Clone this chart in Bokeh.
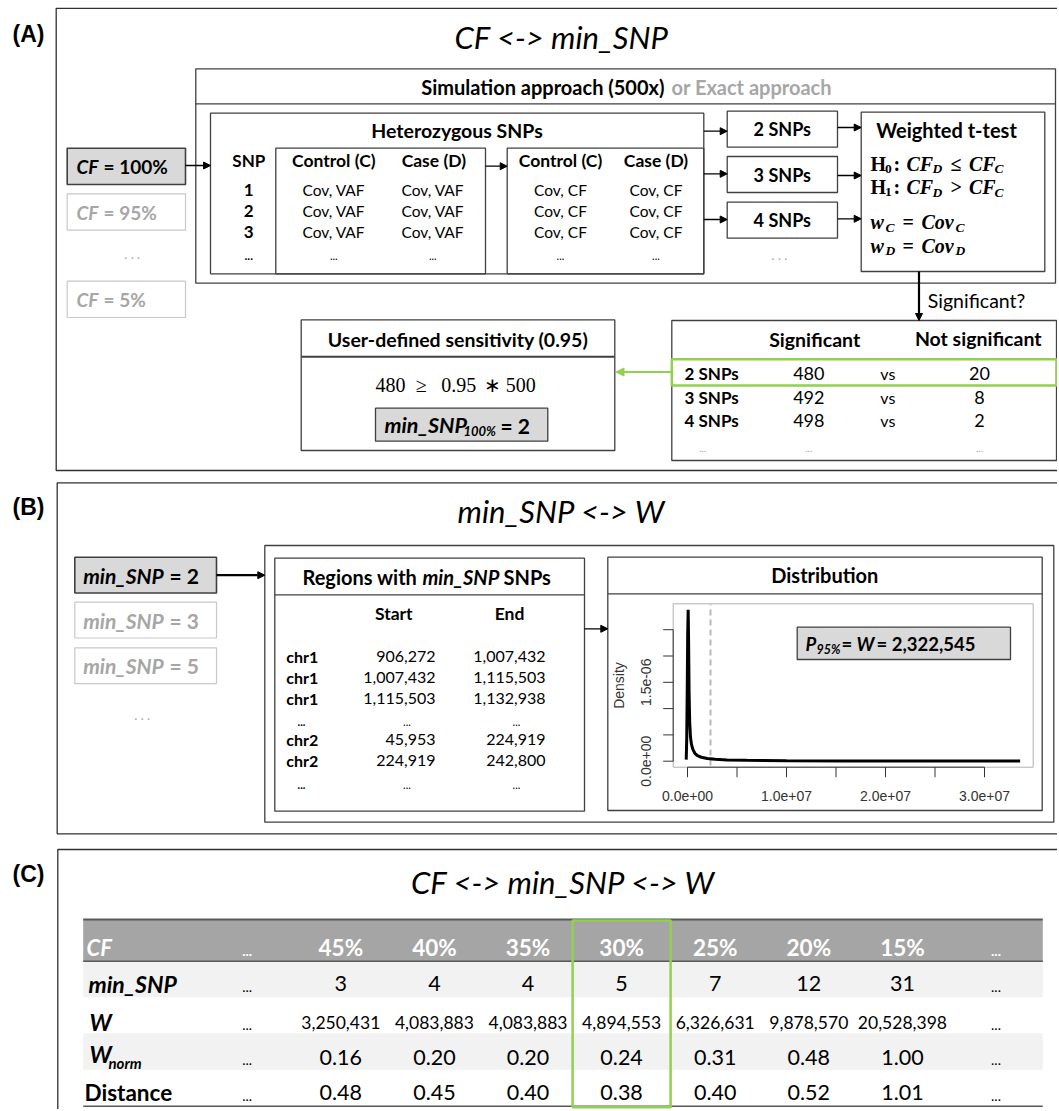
import math
from bokeh.plotting import figure
from bokeh.models import Range1d, Arrow, NormalHead, ColumnDataSource
from bokeh.core.properties import value
from bokeh.embed import file_html
from bokeh.resources import INLINE

# ------------------------------------------------------------------ data
PANEL_LABELS = ["(A)", "(B)", "(C)"]
PANEL_TITLES = ["CF <-> min_SNP", "min_SNP <-> W", "CF <-> min_SNP <-> W"]
CF_CHOICES = ["100%", "95%", "5%"]
SNP_ROWS = ["1", "2", "3", "..."]
SNP_SETS = ["2 SNPs", "3 SNPs", "4 SNPs"]
N_SIM = 500
SENSITIVITY = 0.95
SIG_COUNTS = [480, 492, 498]
NOT_SIG_COUNTS = [20, 8, 2]
MIN_SNP_CHOICES = [2, 3, 5]
REGION_CHR = ["chr1", "chr1", "chr1", "...", "chr2", "chr2", "..."]
REGION_START = ["906,272", "1,007,432", "1,115,503", "...", "45,953", "224,919", "..."]
REGION_END = ["1,007,432", "1,115,503", "1,132,938", "...", "224,919", "242,800", "..."]
# density of region widths
DENS_X = [-1.3e5, -0.8e5, -0.3e5, 0.2e5, 0.67e5, 1.1e5, 1.6e5, 2.2e5, 3.0e5, 4.0e5,
          5.5e5, 7.5e5, 1.0e6, 1.4e6, 2.0e6, 2.8e6, 4.0e6, 6.0e6, 1.0e7, 1.6e7, 2.4e7, 3.36e7]
DENS_Y = [0.03e-6, 0.4e-6, 1.3e-6, 2.4e-6, 2.88e-6, 2.3e-6, 1.3e-6, 0.75e-6, 0.46e-6, 0.32e-6,
          0.22e-6, 0.15e-6, 0.105e-6, 0.075e-6, 0.05e-6, 0.035e-6, 0.025e-6, 0.017e-6, 0.01e-6,
          0.006e-6, 0.004e-6, 0.003e-6]
W_P95 = 2322545
X_TICKS = [0, 5e6, 1e7, 1.5e7, 2e7, 2.5e7, 3e7]
X_TICK_LABELS = ["0.0e+00", "", "1.0e+07", "", "2.0e+07", "", "3.0e+07"]
Y_TICKS = [0, 5e-7, 1e-6, 1.5e-6, 2e-6, 2.5e-6]
Y_TICK_LABELS = ["0.0e+00", "", "", "1.5e-06", "", ""]
TABLE_CF = ["...", "45%", "40%", "35%", "30%", "25%", "20%", "15%", "..."]
TABLE_MIN_SNP = ["...", "3", "4", "4", "5", "7", "12", "31", "..."]
TABLE_W = ["...", "3,250,431", "4,083,883", "4,083,883", "4,894,553", "6,326,631",
           "9,878,570", "20,528,398", "..."]
TABLE_W_NORM = ["...", "0.16", "0.20", "0.20", "0.24", "0.31", "0.48", "1.00", "..."]
TABLE_DIST = ["...", "0.48", "0.45", "0.40", "0.38", "0.40", "0.52", "1.01", "..."]
SELECTED_CF = "30%"

# ------------------------------------------------------------------ styles
FONT = "Lato"
SERIF = "Liberation Serif"
ARIAL = "Liberation Sans"
DARK = "#404040"
LIGHT = "#a6a6a6"
GREEN = "#92d050"
BOXFILL = "#d9d9d9"
W_PX, H_PX = 1057, 1109

p = figure(width=W_PX, height=H_PX, x_range=Range1d(0, W_PX), y_range=Range1d(H_PX, 0),
           output_backend="svg", toolbar_location=None, min_border=0,
           x_axis_location=None, y_axis_location=None, outline_line_color=None)
p.grid.visible = False
p.background_fill_color = "white"
p.border_fill_color = "white"

# mini density plot scales (frame of the R plot in panel B)
X0PX, PX_PER_X = 687.0, 99.0 / 1e7
Y0PX, PX_PER_Y = 760.7, 26.3 / 5e-7
p.extra_x_ranges = {"dx": Range1d((0 - X0PX) / PX_PER_X, (W_PX - X0PX) / PX_PER_X)}
p.extra_y_ranges = {"dy": Range1d((Y0PX - H_PX) / PX_PER_Y, (Y0PX - 0) / PX_PER_Y)}


def T(x, y, s, size=15, style="normal", color="black", align="left", font=FONT,
      baseline="middle", angle=0.0, **kw):
    xs = x if isinstance(x, list) else [x]
    ys = y if isinstance(y, list) else [y] * len(xs)
    ss = s if isinstance(s, list) else [s] * len(xs)
    p.text(x=xs, y=ys, text=ss, text_font=value(font), text_font_size=f"{size}px",
           text_font_style=style, text_color=color, text_align=align,
           text_baseline=baseline, angle=angle, **kw)


def B(l, r, t, b, fill=None, line=DARK, lw=1.3):
    p.quad(left=[l], right=[r], top=[t], bottom=[b], fill_color=fill,
           fill_alpha=1.0 if fill else 0.0, line_color=line, line_width=lw)


def L(xs, ys, color=DARK, lw=1.3, dash="solid", **kw):
    p.line(xs, ys, line_color=color, line_width=lw, line_dash=dash, **kw)


def arrows(segs, color="black", lw=1.3, size=7):
    src = ColumnDataSource(dict(x0=[s[0] for s in segs], y0=[s[1] for s in segs],
                                x1=[s[2] for s in segs], y1=[s[3] for s in segs]))
    p.add_layout(Arrow(end=NormalHead(size=size, fill_color=color, line_color=color),
                       x_start="x0", y_start="y0", x_end="x1", y_end="y1", source=src,
                       line_color=color, line_width=lw))


# ================================================================== panel A
L([1070, 55.7, 55.7, 1070], [7.8, 7.8, 470, 470], color="#303030", lw=1.3)
T(28, 33, PANEL_LABELS[0], 23, "bold", font=ARIAL, align="center")
T(561, 36, PANEL_TITLES[0], 31, "italic", align="center")

# simulation container
B(195.3, 1055, 68.3, 282.7)
L([195.3, 1055], [103.3, 103.3])
T(664, 86, f"Simulation approach ({N_SIM}x)", 20, "bold", align="right")
T(671, 86, "or Exact approach", 20, "bold", color=LIGHT)

# CF choices
cf_tops = [147.7, 193.3, 280.7]
for i, cf in enumerate(CF_CHOICES):
    sel = i == 0
    col = "black" if sel else LIGHT
    B(66.7, 185, cf_tops[i], cf_tops[i] + 36.3, fill=BOXFILL if sel else None,
      line=DARK if sel else "#c8c8c8", lw=1.6 if sel else 1.2)
    yc = cf_tops[i] + 18.5
    T(76, yc, "CF", 19, "bold italic", color=col)
    T(103, yc, "= " + cf, 19, "bold", color=col)
T(131.7, 253, ". . .", 13, color=LIGHT, align="center")

# heterozygous SNPs
B(210, 703.3, 112.7, 273.3)
T(456.5, 130, "Heterozygous SNPs", 19.5, "bold", align="center")
B(275.3, 485, 147.7, 273.3)
B(506.7, 703.3, 147.7, 273.3)
T(248.3, 160, "SNP", 17, "bold", align="center")
for cx, lab in [(333.3, "Control (C)"), (433.3, "Case (D)"), (560, "Control (C)"), (655.5, "Case (D)")]:
    T(cx, 160, lab, 17.5, "bold", align="center")
row_y = [189.3, 210.7, 231, 255]
for j, r in enumerate(SNP_ROWS):
    T(248.3, row_y[j], r, 17 if r != "..." else 12, "bold", align="center")
    if r != "...":
        T([333.3, 432.3], row_y[j], "Cov, VAF", 15.5, align="center")
        T([560, 655.5], row_y[j], "Cov, CF", 15.5, align="center")
    else:
        T([333.3, 432.3, 560, 655.5], row_y[j], "...", 11, align="center")

# SNP sets
snp_tops = [110.7, 156, 201.7]
for i, s in enumerate(SNP_SETS):
    B(726.7, 837, snp_tops[i], snp_tops[i] + 36)
    T(781.8, snp_tops[i] + 18, s, 18, "bold", align="center")
T(779, 254, ". . .", 13, color=LIGHT, align="center")

# weighted t-test
B(860.7, 1044.3, 111.7, 271)
T(946, 129.3, "Weighted t-test", 20, "bold", align="center")
MS, SS = 20, 13.5
for yy, sub, rel in [(163.3, "0", "\u2264"), (186.7, "1", ">")]:
    T(870, yy, "H", MS, "bold", font=SERIF)
    T(884.5, yy + 5, sub, SS, "bold", font=SERIF)
    T(893, yy, ":", MS, "bold", font=SERIF)
    T(906, yy, "CF", MS, "bold italic", font=SERIF)
    T(932, yy + 5, "D", SS, "bold italic", font=SERIF)
    T(950, yy, rel, MS, "bold", font=SERIF)
    T(968.5, yy, "CF", MS, "bold italic", font=SERIF)
    T(994, yy + 5, "C", SS, "bold italic", font=SERIF)
for yy, sub in [(221.7, "C"), (245, "D")]:
    T(870, yy, "w", MS, "bold italic", font=SERIF)
    T(885, yy + 5, sub, SS, "bold italic", font=SERIF)
    T(902, yy, "=", MS, "bold", font=SERIF)
    T(921, yy, "Cov", MS, "bold italic", font=SERIF)
    T(955, yy + 5, sub, SS, "bold italic", font=SERIF)

arrows([(184.5, 165, 210, 165), (485, 165.7, 506.7, 165.7),
        (703.3, 130.7, 726.7, 130.7), (703.3, 173.3, 726.7, 173.3), (703.3, 219, 726.7, 219),
        (837, 127, 860.7, 127), (837, 175, 860.7, 175), (837, 218.3, 860.7, 218.3)])
arrows([(918.5, 271, 918.5, 320)], lw=2.2)
T(927.3, 300, "Significant?", 19.5)

# significance table
SIG_R = 1056
B(671.3, SIG_R, 320, 460)
T(814.2, 339.3, "Significant", 19.5, "bold", align="center")
T(977.7, 338, "Not significant", 19.5, "bold", align="center")
sig_y = [373.3, 397.3, 420]
for i in range(len(SNP_SETS)):
    T(684, sig_y[i], SNP_SETS[i], 17, "bold")
    T(808.3, sig_y[i], str(SIG_COUNTS[i]), 18, align="center")
    T(887.3, sig_y[i], "vs", 16, align="center")
    T(979, sig_y[i], str(NOT_SIG_COUNTS[i]), 18, align="center")
T([702, 808.3, 979], 448.3, "...", 10, color=LIGHT, align="center")
B(671.3, SIG_R, 358.7, 385, line=GREEN, lw=2.5)

# sensitivity
first = next(i for i in range(len(SIG_COUNTS)) if SIG_COUNTS[i] >= SENSITIVITY * N_SIM)
arrows([(671.3, 371.5, 615.5, 371.5)], color=GREEN, lw=2.2, size=8)
B(300.7, 614.3, 319.3, 450)
L([300.7, 614.3], [356.3, 356.3], lw=2)
T(457.5, 339.3, f"User-defined sensitivity ({SENSITIVITY})", 19.5, "bold", align="center")
for cx, s in zip([390, 420.8, 458.3, 491.7, 520.3],
                 [str(SIG_COUNTS[first]), "\u2265", str(SENSITIVITY), "\u2217", str(N_SIM)]):
    T(cx, 384.3, s, 20, font=SERIF, align="center")
B(375, 547.3, 407.7, 440.7, fill=BOXFILL)
T(384, 424.5, "min_SNP", 21.5, "bold italic")
T(463, 430.5, CF_CHOICES[0], 13, "bold italic")
T(500, 424.5, "= " + SNP_SETS[first].split()[0], 21, "bold")

# ================================================================== panel B
L([1070, 56.7, 56.7, 1070], [482.3, 482.3, 833.3, 833.3], color="#303030", lw=1.3)
T(28, 506.7, PANEL_LABELS[1], 23, "bold", font=ARIAL, align="center")
T(561, 510, PANEL_TITLES[1], 31, "italic", align="center")

ms_tops = [556.7, 601.7, 647.3]
for i, m in enumerate(MIN_SNP_CHOICES):
    sel = i == 0
    col = "black" if sel else LIGHT
    B(74.3, 216, ms_tops[i], ms_tops[i] + 35.8, fill=BOXFILL if sel else None,
      line=DARK if sel else "#c8c8c8", lw=1.6 if sel else 1.2)
    yc = ms_tops[i] + 18
    T(82.7, yc, "min_SNP", 21, "bold italic", color=col)
    T(169, yc, f"= {m}", 21, "bold", color=col)
T(141.7, 714, ". . .", 13, color=LIGHT, align="center")

B(264.3, 1053.3, 545, 821.7)
B(274.3, 584, 557.7, 810.7)
L([274.3, 584], [594.3, 594.3])
T(302, 576, "Regions with", 20, "bold")
T(422, 576, "min_SNP", 20, "bold italic")
T(503, 576, "SNPs", 20, "bold")
T(393.3, 612.7, "Start", 17.5, "bold", align="center")
T(509, 612.7, "End", 17.5, "bold", align="center")
reg_y = [655.7, 677.3, 698, 721.7, 739.3, 760, 784]
for j in range(len(REGION_CHR)):
    if REGION_CHR[j] == "...":
        T(301, reg_y[j], "...", 11, "bold", align="center")
        T([406.5, 516], reg_y[j], "...", 11, align="center")
    else:
        T(285.7, reg_y[j], REGION_CHR[j], 16, "bold")
        T(435, reg_y[j], REGION_START[j], 16, align="right")
        T(545, reg_y[j], REGION_END[j], 16, align="right")

arrows([(216, 574.7, 264.3, 574.7)], lw=2.2)
arrows([(584, 628.3, 607.3, 628.3)])

B(607.3, 1041.7, 556.7, 810)
L([607.3, 1041.7], [593.3, 593.3])
T(824.3, 574.3, "Distribution", 20, "bold", align="center")

# mini R density plot
B(672.7, 1032.7, 603.3, 766.7, line="#b0b0b0", lw=1)
p.segment(x0=[X_TICKS[0]], y0=[766.7], x1=[X_TICKS[-1]], y1=[766.7], x_range_name="dx",
          line_color="#333333", line_width=1)
p.segment(x0=X_TICKS, y0=[766.7] * len(X_TICKS), x1=X_TICKS, y1=[776.7] * len(X_TICKS),
          x_range_name="dx", line_color="#333333", line_width=1)
p.segment(x0=[672.7], y0=[Y_TICKS[0]], x1=[672.7], y1=[Y_TICKS[-1]], y_range_name="dy",
          line_color="#333333", line_width=1)
p.segment(x0=[672.7] * len(Y_TICKS), y0=Y_TICKS, x1=[662.7] * len(Y_TICKS), y1=Y_TICKS,
          y_range_name="dy", line_color="#333333", line_width=1)
xl = [(v, s) for v, s in zip(X_TICKS, X_TICK_LABELS) if s]
T([v for v, _ in xl], 795, [s for _, s in xl], 14, color="#333333", font=ARIAL,
  align="center", x_range_name="dx")
yl = [(v, s) for v, s in zip(Y_TICKS, Y_TICK_LABELS) if s]
T([645] * len(yl), [v for v, _ in yl], [s for _, s in yl], 14, color="#333333", font=ARIAL,
  align="center", angle=math.pi / 2, y_range_name="dy")
T(618.3, 685, "Density", 14, color="#333333", font=ARIAL, align="center", angle=math.pi / 2)
p.segment(x0=[W_P95], y0=[-0.08e-6], x1=[W_P95], y1=[2.98e-6], x_range_name="dx",
          y_range_name="dy", line_color="#b8b8b8", line_width=2, line_dash="6 4")
p.line(DENS_X, DENS_Y, x_range_name="dx", y_range_name="dy", line_color="black",
       line_width=3)

B(796.7, 1010, 626.7, 659, fill=BOXFILL)
T(805, 643.3, "P", 18.5, "bold italic")
T(816, 648.5, "95%", 12.5, "bold italic")
T(841, 643.3, "=", 18.5, "bold")
T(856, 643.3, "W", 18.5, "bold italic")
T(876, 643.3, f"= {W_P95:,}", 18.5, "bold")

# ================================================================== panel C
L([1070, 57.3, 57.3], [849, 849, 1120], color="#303030", lw=1.3)
T(28, 873.3, PANEL_LABELS[2], 23, "bold", font=ARIAL, align="center")
T(563, 881.7, PANEL_TITLES[2], 31, "italic", align="center")

TL, TR = 82.7, 1042.3
rows = [919, 960.7, 996.7, 1032.7, 1069.3, 1105.7]
p.quad(left=[TL], right=[TR], top=[rows[0]], bottom=[rows[1]], fill_color="#a5a5a5",
       line_color=None)
for k in (1, 3):
    p.quad(left=[TL], right=[TR], top=[rows[k]], bottom=[rows[k + 1]], fill_color="#f2f2f2",
           line_color=None)
L([TL, TR], [rows[0], rows[0]], color="#595959", lw=2)
L([TL, TR], [rows[1], rows[1]], color="#595959", lw=1.5)
L([TL, TR], [rows[5], rows[5]], color="#595959", lw=1.5)

col_x = [246.7 + 93.6 * i for i in range(len(TABLE_CF))]
T(86, 947.3, "CF", 22, "bold italic", color="white")
T(88, 983.3, "min_SNP", 23, "bold italic")
T(89, 1021.7, "W", 23, "bold italic")
T(89, 1053.7, "W", 23, "bold italic")
T(108, 1062.7, "norm", 15, "bold italic")
T(84, 1092.3, "Distance", 22.5, "bold")


def table_row(vals, y, size, style="normal", color="black"):
    for x, v in zip(col_x, vals):
        if v == "...":
            T(x, y + 3, "...", 14, style, color=color, align="center")
        else:
            T(x, y, v, size, style, color=color, align="center")


table_row(TABLE_CF, 947.3, 22.5, "bold", "white")
table_row(TABLE_MIN_SNP, 983.3, 21.5)
table_row(TABLE_W, 1021.7, 17.5)
table_row(TABLE_W_NORM, 1056.7, 21.5)
table_row(TABLE_DIST, 1092.3, 21.5)

sx = col_x[TABLE_CF.index(SELECTED_CF)]
B(sx - 49, sx + 49, 920, 1106.7, line=GREEN, lw=2.5)

open("out.html", "w").write(file_html(p, INLINE))
